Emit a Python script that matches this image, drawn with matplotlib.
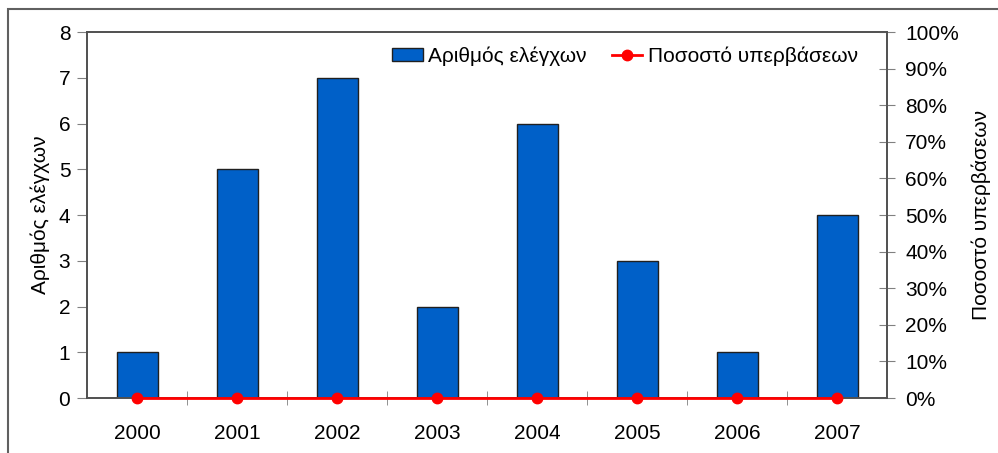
import matplotlib.pyplot as plt
import matplotlib.patches as patches
from matplotlib.ticker import MultipleLocator, FixedLocator

plt.rcParams['font.family'] = ['Liberation Sans', 'DejaVu Sans']

years = ['2000', '2001', '2002', '2003', '2004', '2005', '2006', '2007']
checks = [1, 5, 7, 2, 6, 3, 1, 4]
exceed_pct = [0, 0, 0, 0, 0, 0, 0, 0]

fs = 15
fig = plt.figure(figsize=(9.98, 4.53), dpi=100)
fig.patches.append(patches.Rectangle((8 / 998, -0.1), 1.2, 1 - 9 / 453 + 0.1,
                                     transform=fig.transFigure, fill=False,
                                     edgecolor='#606060', linewidth=1.5))

ax = fig.add_axes([87 / 998, 1 - 398 / 453, 800 / 998, 366 / 453])
x = range(len(years))
bars = ax.bar(x, checks, width=0.41, color='#0060C8', edgecolor='#202020',
              linewidth=1, label='Αριθμός ελέγχων', zorder=2)
ax.set_xlim(-0.5, len(years) - 0.5)
ax.set_ylim(0, 8)
ax.yaxis.set_major_locator(MultipleLocator(1))
ax.set_xticks(list(x))
ax.set_xticklabels(years)
ax.xaxis.set_minor_locator(FixedLocator([i + 0.5 for i in range(len(years) - 1)]))
ax.tick_params(axis='x', which='major', length=0, pad=19, labelsize=fs)
ax.tick_params(axis='x', which='minor', length=10, direction='inout', color='#808080')
ax.tick_params(axis='y', length=7, color='#808080', labelsize=fs, pad=5)
ax.set_ylabel('Αριθμός ελέγχων', fontsize=fs, labelpad=6)
for s in ax.spines.values():
    s.set_color('#505050')
    s.set_linewidth(1.2)

ax2 = ax.twinx()
line, = ax2.plot(list(x), exceed_pct, color='#FF0000', linewidth=2, marker='o',
                 markersize=7.5, label='Ποσοστό υπερβάσεων', zorder=3, clip_on=False)
ax2.set_ylim(0, 100)
ax2.set_yticks(range(0, 101, 10))
ax2.set_yticklabels([f'{v}%' for v in range(0, 101, 10)])
ax2.tick_params(axis='y', length=12, direction='inout', color='#808080',
                labelsize=fs, pad=7)
ax2.set_ylabel('Ποσοστό υπερβάσεων', fontsize=fs, labelpad=9)
for s in ax2.spines.values():
    s.set_color('#505050')
    s.set_linewidth(1.2)

ax.legend([bars, line], ['Αριθμός ελέγχων', 'Ποσοστό υπερβάσεων'], loc='upper right',
          bbox_to_anchor=(866 / 998, 1 - 38 / 453), bbox_transform=fig.transFigure,
          borderaxespad=0, ncol=2, frameon=False, fontsize=fs,
          handlelength=1.45, handleheight=0.6, handletextpad=0.25, columnspacing=1.25)

fig.savefig('out.png', dpi=100)
